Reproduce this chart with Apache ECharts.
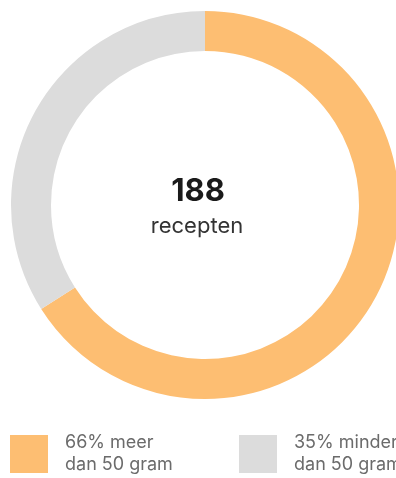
<!DOCTYPE html>
<html><head><meta charset="utf-8">
<script src="https://cdn.jsdelivr.net/npm/echarts@6/dist/echarts.min.js"></script>
<style>html,body{margin:0;padding:0;background:#fff}#c{width:396px;height:478px}</style>
</head><body><div id="c"></div>
<script>
const categories = ['66% meer\ndan 50 gram', '35% minder\ndan 50 gram'];
const values = [66, 34];
const colors = ['#FDBE72', '#DCDCDC'];
const totalLabel = '188';
const unitLabel = 'recepten';

const chart = echarts.init(document.getElementById('c'));
const legendText = {color: '#6b6b6b', fontSize: 18, lineHeight: 22, fontFamily: 'Inter', padding: [0, 0, 0, 12]};
chart.setOption({
  animation: false,
  color: colors,
  legend: [
    {data: [categories[0]], left: 5, top: 427, itemWidth: 38, itemHeight: 38, icon: 'rect', textStyle: legendText, selectedMode: false},
    {data: [categories[1]], left: 234, top: 427, itemWidth: 38, itemHeight: 38, icon: 'rect', textStyle: legendText, selectedMode: false}
  ],
  graphic: [
    {type: 'text', style: {text: totalLabel, x: 198, y: 192, font: 'bold 31px Inter', fill: '#1a1a1a', textAlign: 'center', textVerticalAlign: 'middle'}},
    {type: 'text', style: {text: unitLabel, x: 197, y: 226, font: '22px Inter', fill: '#333', textAlign: 'center', textVerticalAlign: 'middle'}}
  ],
  series: [{
    type: 'pie',
    center: [205, 205],
    radius: [154, 194],
    startAngle: 90,
    clockwise: true,
    label: {show: false},
    labelLine: {show: false},
    emphasis: {disabled: true},
    itemStyle: {borderWidth: 0},
    data: categories.map((n, i) => ({name: n, value: values[i]}))
  }]
});
</script></body></html>
